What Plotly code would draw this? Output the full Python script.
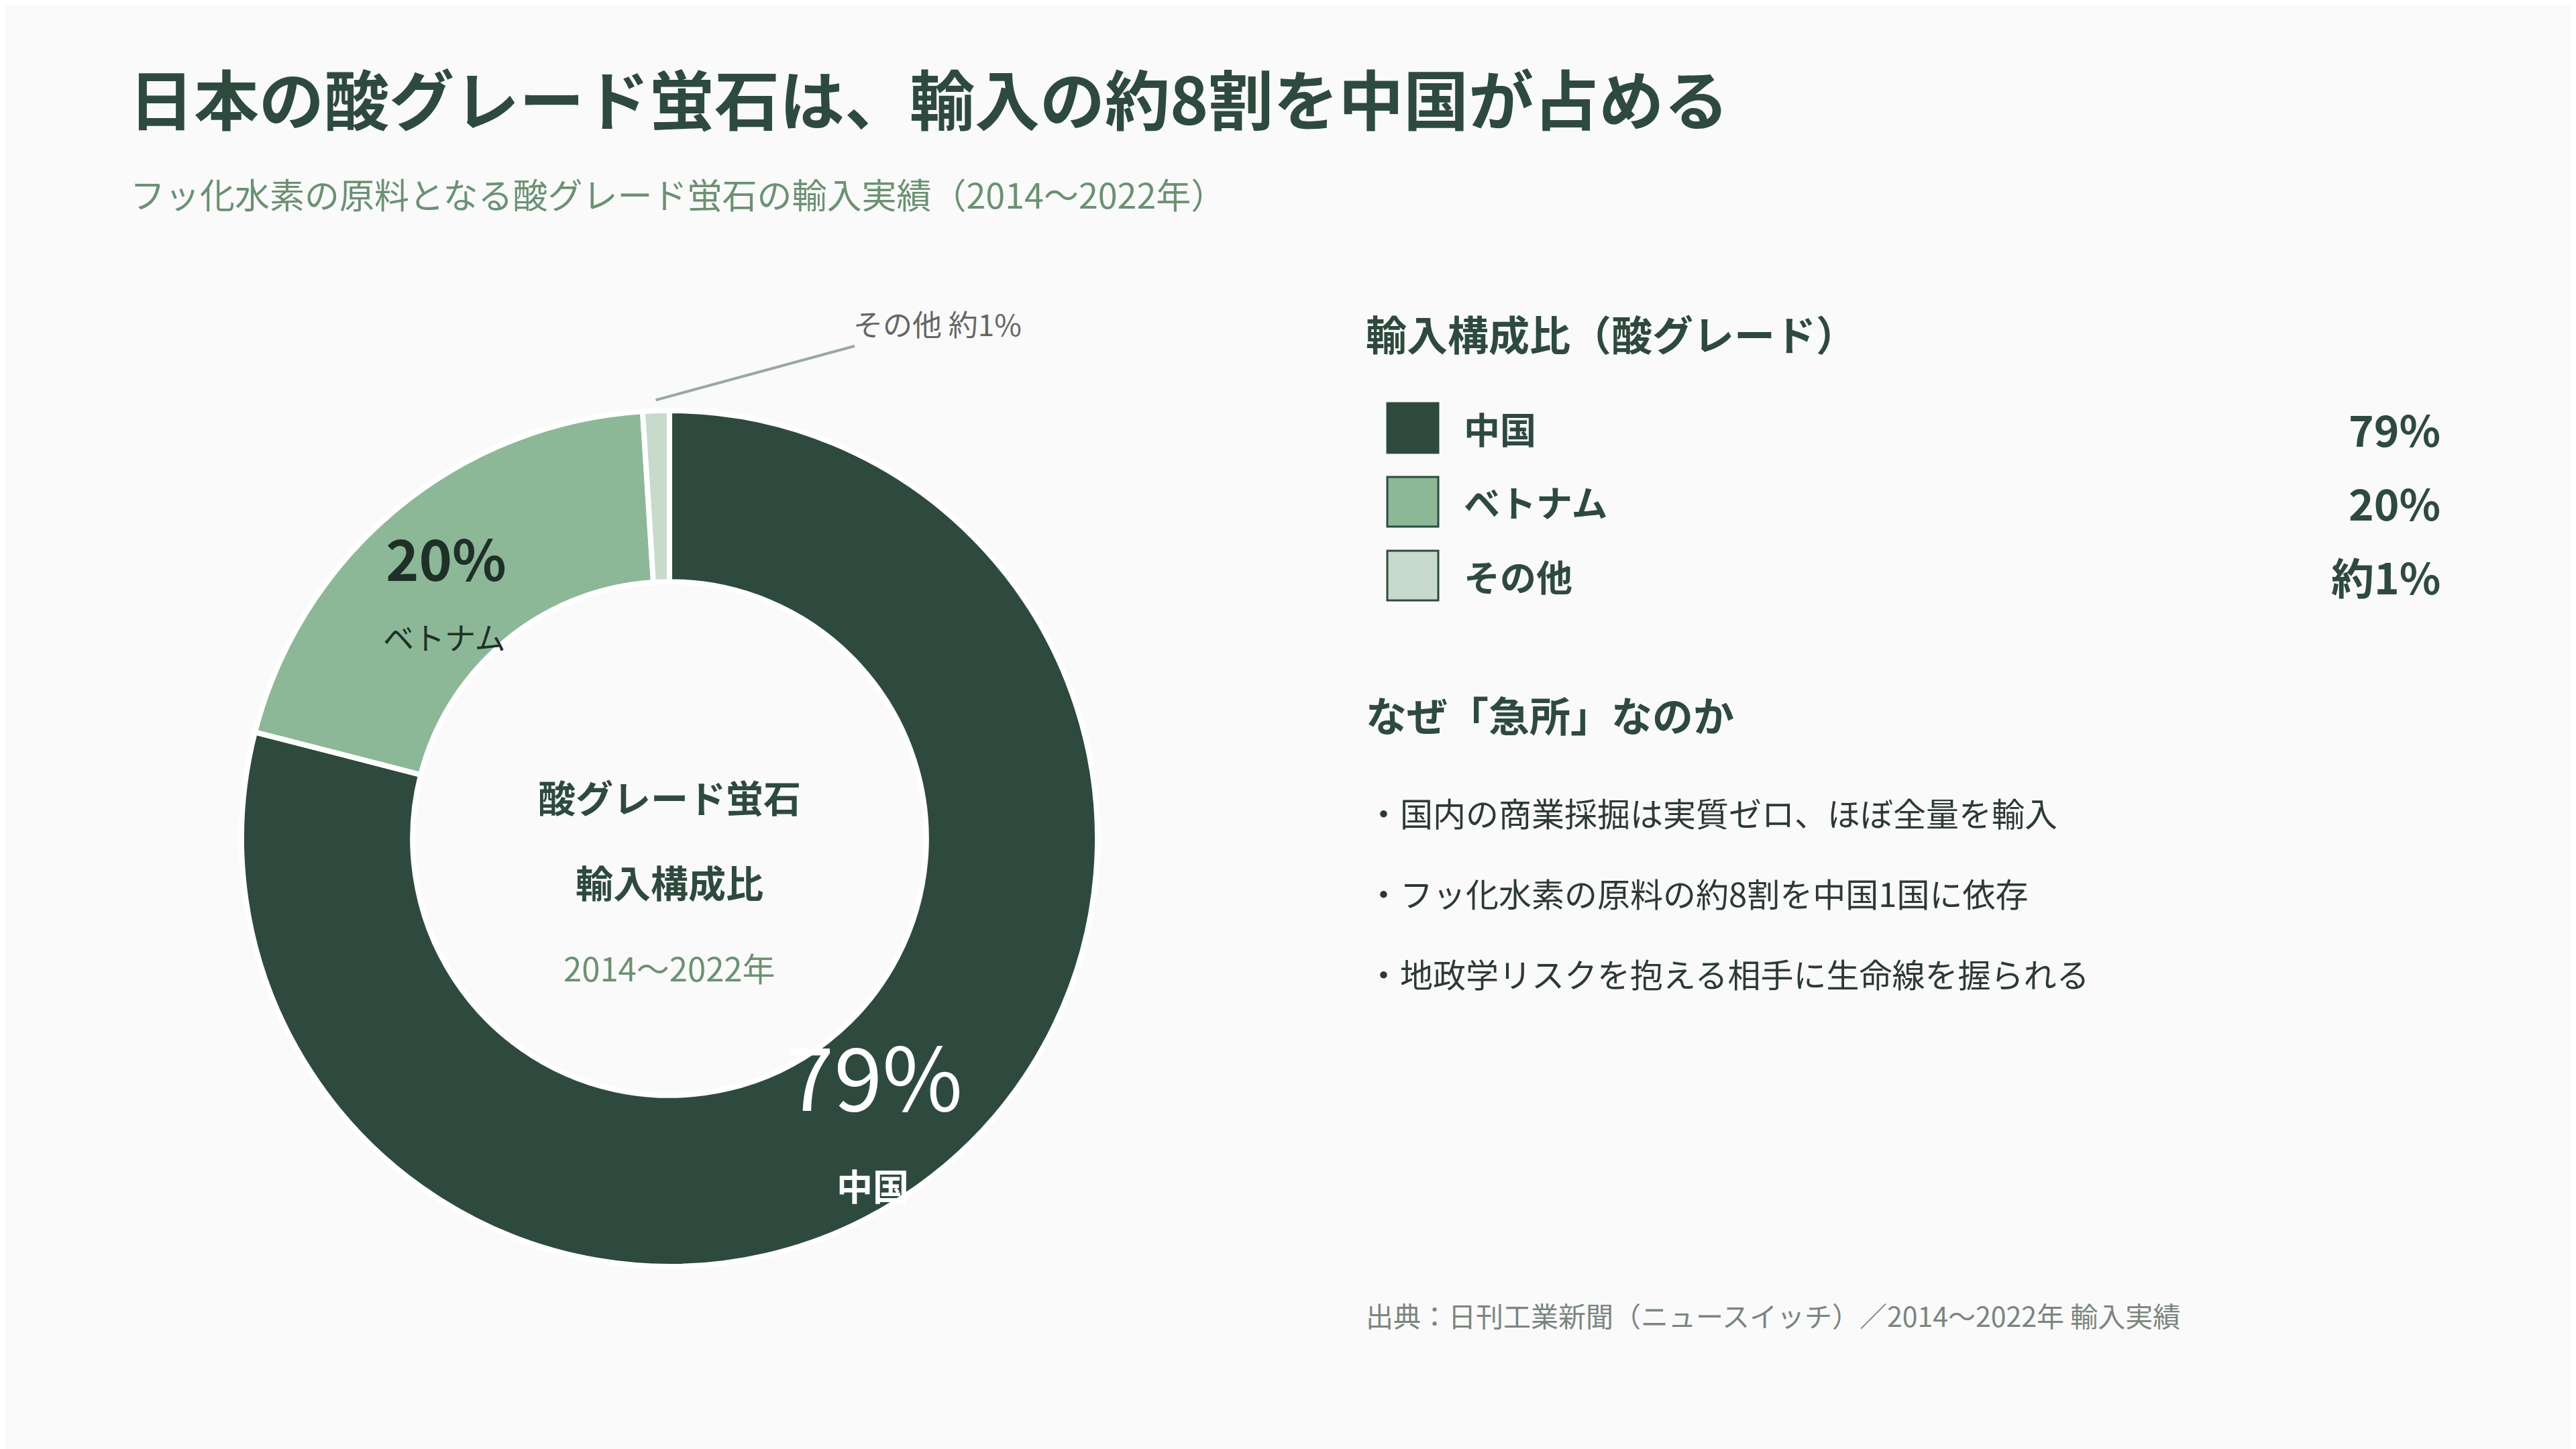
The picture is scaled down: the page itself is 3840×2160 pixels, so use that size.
import math
import plotly.graph_objects as go

# Data
countries = ["中国", "ベトナム", "その他"]
shares = [79, 20, 1]
share_labels = ["79%", "20%", "約1%"]
colors = ["#2e4a3e", "#8cb898", "#c8dacb"]

title = "日本の酸グレード蛍石は、輸入の約8割を中国が占める"
subtitle = "フッ化水素の原料となる酸グレード蛍石の輸入実績（2014〜2022年）"
center_lines = ["酸グレード蛍石", "輸入構成比", "2014〜2022年"]
legend_title = "輸入構成比（酸グレード）"
reasons_title = "なぜ「急所」なのか"
reasons = [
    "・国内の商業採掘は実質ゼロ、ほぼ全量を輸入",
    "・フッ化水素の原料の約8割を中国1国に依存",
    "・地政学リスクを抱える相手に生命線を握られる",
]
source = "出典：日刊工業新聞（ニュースイッチ）／2014〜2022年 輸入実績"

W, H = 3840, 2160
OFF = 8  # page body margin
FONT = "Noto Sans CJK JP"
DARK = "#2e4a3e"
BG = "#fafafa"

# pie placement (pixel box of the donut)
box_l, box_r, box_t, box_b = 360 - OFF, 1636 - OFF, 612 - OFF, 1888 - OFF
dom_x = [box_l / W, box_r / W]
dom_y = [1 - box_b / H, 1 - box_t / H]
hole = 0.6

fig = go.Figure(go.Pie(
    labels=countries,
    values=shares,
    sort=False,
    direction="clockwise",
    rotation=0,
    hole=hole,
    marker=dict(colors=colors, line=dict(color="white", width=8)),
    textinfo="none",
    hoverinfo="label+percent",
    domain=dict(x=dom_x, y=dom_y),
    showlegend=False,
))

ann = []
shapes = []


def px(x, y, **kw):
    # pixel coords (top-left origin, reference frame) -> paper annotation
    d = dict(x=(x - OFF) / W, y=1 - (y - OFF) / H, xref="paper", yref="paper",
             showarrow=False, xanchor="center", yanchor="middle")
    d.update(kw)
    return d


def font(size, color=DARK, weight=400):
    return dict(family=FONT, size=size, color=color, weight=weight)


# headings
ann.append(px(190, 143, text=title, xanchor="left", font=font(97, weight=700)))
ann.append(px(192, 288, text=subtitle, xanchor="left", font=font(52, "#6b9173")))

# center of donut
R = min(box_r - box_l, box_b - box_t) / 2
ccx = (box_l + box_r) / 2 + OFF
ccy = (box_t + box_b) / 2 + OFF

ann.append(px(ccx, 1186, text=center_lines[0], font=font(56, weight=700)))
ann.append(px(ccx, 1313, text=center_lines[1], font=font(56, weight=700)))
ann.append(px(ccx, 1441, text=center_lines[2], font=font(49, "#6b9173")))

# slice labels, positioned from the data angles
total = sum(shares)
cum = 0
label_styles = [
    dict(pct=dict(size=130, color="white", weight=400), name=dict(size=54, color="white", weight=700),
         dy=0),
    dict(pct=dict(size=84, color="#1f3028", weight=700), name=dict(size=46, color="#1f3028", weight=400),
         dy=8),
]
for i, (name, v) in enumerate(zip(countries, shares)):
    mid = (cum + v / 2) / total
    cum += v
    th = 2 * math.pi * mid
    if i < len(label_styles):
        r = R * (1 + hole) / 2
        x = ccx + r * math.sin(th)
        y = ccy - r * math.cos(th)
        st = label_styles[i]
        ann.append(px(x - 8, y + st["dy"], text=share_labels[i], yshift=0.42 * st["pct"]["size"],
                      font=dict(family=FONT, **st["pct"])))
        ann.append(px(x - 10, y + st["dy"], text=name,
                      yshift=-(0.5 * st["pct"]["size"] + 0.9 * st["name"]["size"]),
                      font=dict(family=FONT, **st["name"])))
    else:
        r = R * 1.025
        x = ccx + r * math.sin(th)
        y = ccy - r * math.cos(th)
        ann.append(px(x, y, text=f"{name} {share_labels[i]}", showarrow=True, arrowhead=0,
                      arrowwidth=4, arrowcolor="#9aa89e", ax=420, ay=-114, standoff=0,
                      font=font(44, "#666666")))

# custom legend
ann.append(px(2034, 497, text=legend_title, xanchor="left", font=font(61, weight=700)))
for i, name in enumerate(countries):
    yc = 638 + i * 110
    shapes.append(dict(type="rect", xref="paper", yref="paper",
                       x0=(2068 - OFF) / W, x1=(2144 - OFF) / W,
                       y0=1 - (yc + 37 - OFF) / H, y1=1 - (yc - 37 - OFF) / H,
                       fillcolor=colors[i], line=dict(color=DARK, width=3)))
    ann.append(px(2180, yc, text=name, xanchor="left", font=font(54, weight=700)))
    ann.append(px(3640, yc, text=share_labels[i], xanchor="right", font=font(64, weight=700)))

# reasons
ann.append(px(2034, 1064, text=reasons_title, xanchor="left", font=font(61, weight=700)))
for i, t in enumerate(reasons):
    ann.append(px(2036, 1210 + i * 120, text=t, xanchor="left", font=font(49, "#2d3a33")))

ann.append(px(2034, 1960, text=source, xanchor="left", font=font(41, "#7a857e")))

fig.update_layout(
    width=W, height=H,
    margin=dict(l=0, r=0, t=0, b=0),
    paper_bgcolor=BG, plot_bgcolor=BG,
    font=dict(family=FONT, color=DARK),
    annotations=ann, shapes=shapes,
)

fig.write_html("out.html")
